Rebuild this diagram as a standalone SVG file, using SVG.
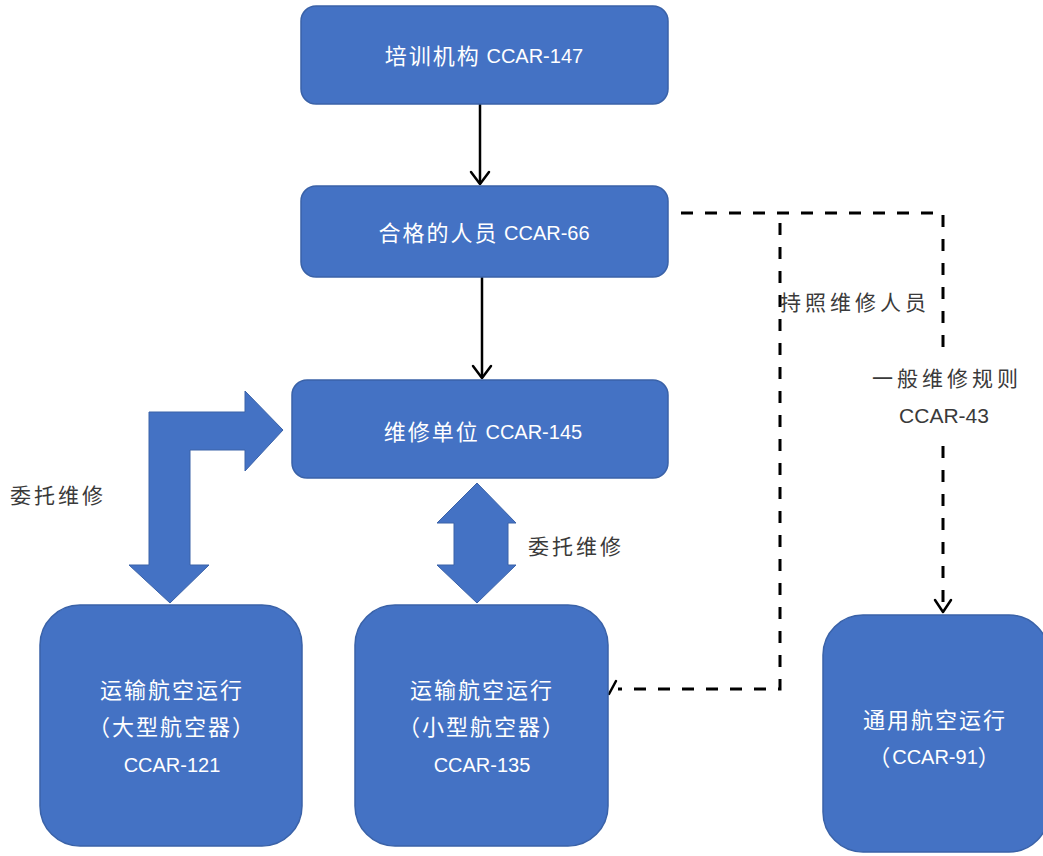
<svg xmlns="http://www.w3.org/2000/svg" width="1043" height="856" viewBox="0 0 1043 856">
  <defs>
    <style>
      .box { fill: #4472C4; stroke: #3A62A8; stroke-width: 1.5; }
      .btxt { fill: #FFFFFF; font-family: "Liberation Sans", "Noto Sans CJK SC", sans-serif; font-size: 20px; text-anchor: middle; dominant-baseline: central; }
      .cjk { font-size: 22px; letter-spacing: 2px; }
      .lbl { fill: #3A3A3A; font-family: "Liberation Sans", "Noto Sans CJK SC", sans-serif; font-size: 21px; dominant-baseline: central; }
      .solid { stroke: #000; stroke-width: 2.5; fill: none; }
      .dash { stroke: #000; stroke-width: 3; fill: none; stroke-dasharray: 12 12; }
      .head { stroke: #000; stroke-width: 2.5; fill: none; stroke-linecap: round; stroke-linejoin: round; }
      .block { fill: #4472C4; stroke: #3A62A8; stroke-width: 1; }
    </style>
  </defs>
  <rect width="1043" height="856" fill="#FFFFFF"/>

  <!-- connectors -->
  <g id="connectors">
    <!-- 147 -> 66 -->
    <line class="solid" x1="480" y1="104" x2="480" y2="184"/>
    <polyline class="head" points="471,172 480,184 489,172"/>
    <!-- 66 -> 145 -->
    <line class="solid" x1="482" y1="277" x2="482" y2="378"/>
    <polyline class="head" points="473,366 482,378 491,366"/>

    <!-- dashed: 66 -> 91 -->
    <polyline class="dash" points="681,213 943,213 943,347"/>
    <line class="dash" x1="943" y1="446" x2="943" y2="610"/>
    <polyline class="head" points="935,600 943,612 951,600"/>

    <!-- dashed: licensed staff -> 135 -->
    <polyline class="dash" points="780,223 780,689 618,689"/>
    <line class="head" x1="609" y1="694" x2="616" y2="681"/>

    <!-- bent block arrow 121 <-> 145 -->
    <polygon class="block" points="149,565 149,412 245,412 245,391 283,430 245,471 245,450 190,450 190,565 209,565 170,603 129,565"/>
    <!-- double block arrow 145 <-> 135 -->
    <polygon class="block" points="477,483 516,523 508,523 508,565 516,565 477,603 437,565 454,565 454,523 437,523"/>

    <text class="lbl" x="10" y="495" letter-spacing="3">委托维修</text>
    <text class="lbl" x="528" y="546" letter-spacing="3">委托维修</text>
    <text class="lbl" x="780" y="302" letter-spacing="4">持照维修人员</text>
    <text class="lbl" x="872" y="378" letter-spacing="4">一般维修规则</text>
    <text class="lbl" x="944" y="415" font-size="20" text-anchor="middle">CCAR-43</text>
  </g>

  <g id="node-ccar147">
    <rect class="box" x="301" y="6" width="367" height="98" rx="15"/>
    <text class="btxt" x="484" y="56"><tspan class="cjk">培训机构</tspan> CCAR-147</text>
  </g>

  <g id="node-ccar66">
    <rect class="box" x="301" y="186" width="367" height="91" rx="15"/>
    <text class="btxt" x="484" y="233"><tspan class="cjk">合格的人员</tspan> CCAR-66</text>
  </g>

  <g id="node-ccar145">
    <rect class="box" x="292" y="380" width="376" height="98" rx="15"/>
    <text class="btxt" x="483" y="432"><tspan class="cjk">维修单位</tspan> CCAR-145</text>
  </g>

  <g id="node-ccar121">
    <rect class="box" x="40" y="605" width="262" height="241" rx="40"/>
    <text class="btxt cjk" x="172" y="690">运输航空运行</text>
    <text class="btxt cjk" x="172" y="727">（大型航空器）</text>
    <text class="btxt" x="172" y="765">CCAR-121</text>
  </g>

  <g id="node-ccar135">
    <rect class="box" x="355" y="605" width="253" height="241" rx="40"/>
    <text class="btxt cjk" x="482" y="690">运输航空运行</text>
    <text class="btxt cjk" x="482" y="727">（小型航空器）</text>
    <text class="btxt" x="482" y="765">CCAR-135</text>
  </g>

  <g id="node-ccar91">
    <rect class="box" x="823" y="615" width="226" height="237" rx="40"/>
    <text class="btxt cjk" x="935" y="720">通用航空运行</text>
    <text class="btxt" x="935" y="757"><tspan class="cjk">（</tspan>CCAR-91<tspan class="cjk">）</tspan></text>
  </g>
</svg>
